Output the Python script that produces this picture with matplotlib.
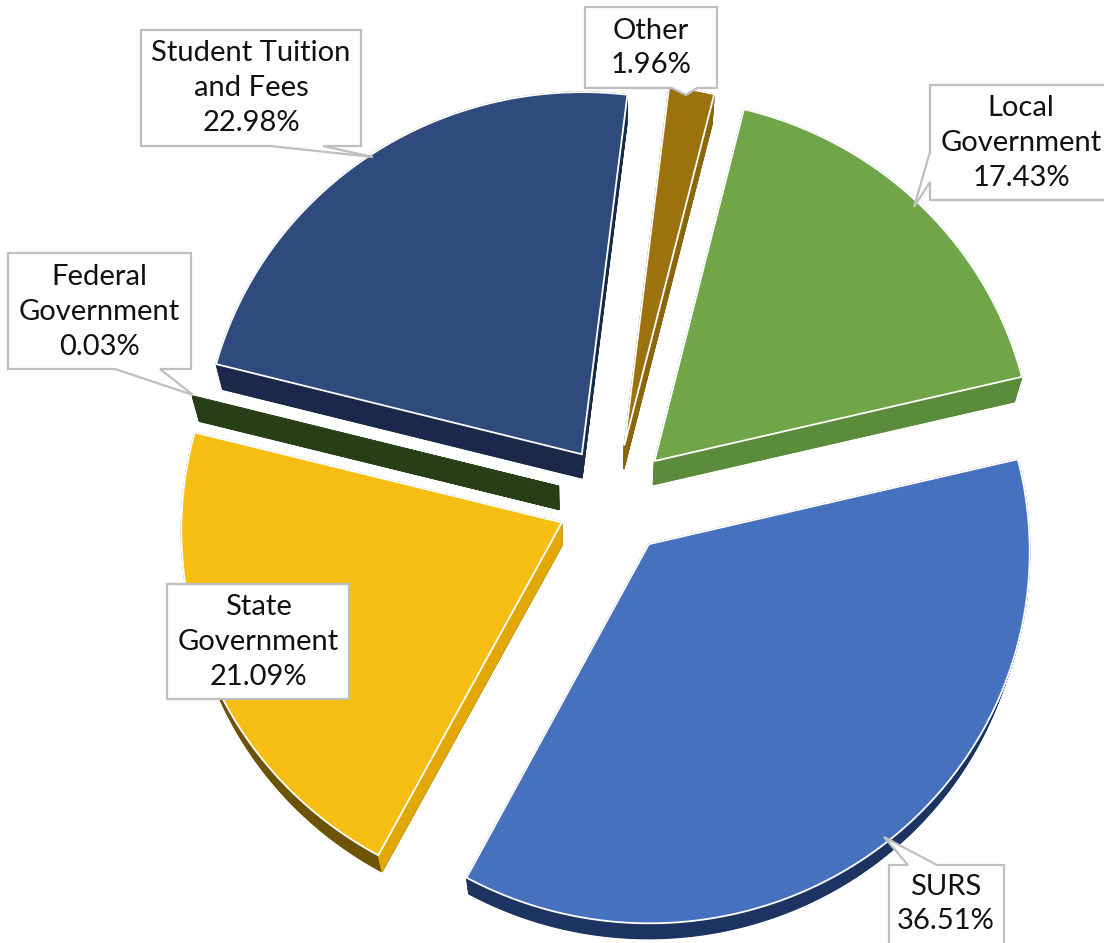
import numpy as np
import matplotlib.pyplot as plt
from matplotlib.patches import Polygon

plt.rcParams['font.family'] = ['Lato', 'DejaVu Sans']

# revenue shares, clockwise from the top
categories = ['Local\nGovernment', 'SURS', 'State\nGovernment',
              'Federal\nGovernment', 'Student Tuition\nand Fees', 'Other']
shares = [17.43, 36.51, 21.09, 0.03, 22.98, 1.96]

top_colors = ['#70A548', '#4571BE', '#F6BE13', '#2B4519', '#2F4B7D', '#9C720D']
rim_colors = ['#5A8A3A', '#1D3361', '#6E5205', '#273F17', '#1B2A4B', '#7A5808']
cut_colors = ['#5B8C3B', '#2A4A86', '#E2A906', '#273F17', '#1A2949', '#8C660B']

# label boxes in pixels: box (x0, y0, x1, y1), side of pointer, pointer base, tip, text centre
callouts = [
    dict(box=(930, 85, 1110, 200), side='left', base=(152, 182), tip=(914, 207), text=(1021, 143)),
    dict(box=(889, 865, 1004, 960), side='top', base=(908, 937), tip=(884, 837), text=(946, 904)),
    dict(box=(167, 584, 349, 699), side=None, base=None, tip=None, text=(258, 642)),
    dict(box=(8, 253, 191, 369), side='bottom', base=(115, 160), tip=(193, 395), text=(99, 312)),
    dict(box=(141, 30, 361, 146), side='bottom', base=(270, 323), tip=(373, 157), text=(251, 88)),
    dict(box=(585, 7, 717, 88), side='bottom', base=(672, 697), tip=(686, 95), text=(651, 48)),
]

W, H = 1104, 943
CX, CY = 614, 500
RADIUS = 380
EXPLODE = 57
START = 14
PERSP = 4.86e-5
SQUASH = 0.975
VANISH = np.array([590.0, 1800.0])
SHRINK = 0.0175


def project(u, v):
    f = 1.0 / (1.0 - PERSP * v)
    return np.column_stack([CX + u * f, CY + SQUASH * v * f])


def slice_outline(a0, a1):
    mid = np.radians((a0 + a1) / 2)
    ox, oy = EXPLODE * np.sin(mid), -EXPLODE * np.cos(mid)
    n = max(3, int((a1 - a0) * 2))
    ang = np.radians(np.linspace(a0, a1, n))
    u = np.concatenate([[ox], ox + RADIUS * np.sin(ang)])
    v = np.concatenate([[oy], oy - RADIUS * np.cos(ang)])
    return project(u, v)


def sink(pts, t):
    return VANISH + (1 - t * SHRINK) * (pts - VANISH)


fig = plt.figure(figsize=(W / 100, H / 100), dpi=100)
ax = fig.add_axes([0, 0, 1, 1])
ax.set_xlim(0, W)
ax.set_ylim(H, 0)
ax.axis('off')

bounds = START + 3.6 * np.concatenate([[0], np.cumsum(shares)])
outlines = [slice_outline(bounds[i], bounds[i + 1]) for i in range(len(shares))]

# side walls first
for pts, rim, cut in zip(outlines, rim_colors, cut_colors):
    for t in np.linspace(0, 1, 28):
        ax.add_patch(Polygon(sink(pts, t), closed=True, fc=rim, ec=rim, lw=1, zorder=1))
    low = sink(pts, 1)
    mid_arc = pts[len(pts) // 2]
    shift = low[0] - pts[0]
    for j in (1, len(pts) - 1):
        edge = pts[j] - pts[0]
        inside = np.cross(edge, mid_arc - pts[0])
        if np.sign(np.cross(edge, shift)) != np.sign(inside):
            quad = np.array([pts[0], pts[j], low[j], low[0]])
            ax.add_patch(Polygon(quad, closed=True, fc=cut, ec=cut, lw=0.8, zorder=2))

# top faces
for i, (pts, top) in enumerate(zip(outlines, top_colors)):
    thin = shares[i] < 0.5
    ax.add_patch(Polygon(pts, closed=True, fc=top, ec=top if thin else 'white',
                         lw=0.5 if thin else 1.3, zorder=3))


def callout_shape(box, side, base, tip):
    x0, y0, x1, y1 = box
    pts = [(x0, y0)]
    if side == 'top':
        pts += [(base[0], y0), tip, (base[1], y0)]
    pts += [(x1, y0), (x1, y1)]
    if side == 'bottom':
        pts += [(base[1], y1), tip, (base[0], y1)]
    pts += [(x0, y1)]
    if side == 'left':
        pts += [(x0, base[1]), tip, (x0, base[0])]
    return pts


for name, share, c in zip(categories, shares, callouts):
    shape = callout_shape(c['box'], c['side'], c['base'], c['tip'])
    ax.add_patch(Polygon(shape, closed=True, fc='white', ec='#BFBFBF', lw=1.6, zorder=5))
    ax.text(c['text'][0], c['text'][1], f'{name}\n{share:.2f}%', ha='center', va='center',
            fontsize=21, linespacing=1.42, color='#111111', zorder=6)

fig.savefig('out.png', dpi=100)
